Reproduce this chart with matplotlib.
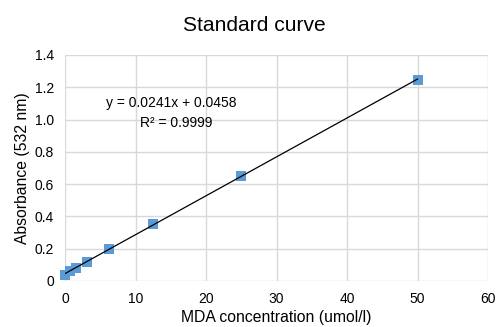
import matplotlib
matplotlib.use("Agg")
import matplotlib.pyplot as plt
import numpy as np

plt.rcParams['font.family'] = ['Liberation Sans', 'DejaVu Sans']

conc = [0, 0.78, 1.56, 3.125, 6.25, 12.5, 25, 50]
absorb = [0.04, 0.06, 0.08, 0.12, 0.20, 0.355, 0.65, 1.245]
slope = 0.0241
intercept = 0.0458
x_ticks = [0, 10, 20, 30, 40, 50, 60]
y_ticks = [0, 0.2, 0.4, 0.6, 0.8, 1.0, 1.2, 1.4]
y_labels = ['0', '0.2', '0.4', '0.6', '0.8', '1.0', '1.2', '1.4']

fig = plt.figure(figsize=(4.99, 3.27), dpi=100)
ax = fig.add_axes([65/499, 1-281/327, (488-65)/499, (281-55)/327])

ax.scatter(conc, absorb, marker='s', s=55, color='#5B9BD5', zorder=3, linewidths=0, clip_on=False)
xf = np.array([min(conc), max(conc)])
ax.plot(xf, slope*xf + intercept, color='black', lw=0.9, zorder=4)

ax.set_xlim(0, 60)
ax.set_ylim(0, 1.4)
ax.set_xticks(x_ticks)
ax.set_yticks(y_ticks)
ax.set_yticklabels(y_labels)
ax.grid(True, color='#D9D9D9', lw=1)
ax.set_axisbelow(True)
for s in ax.spines.values():
    s.set_visible(False)
ax.tick_params(length=0, labelsize=10, colors='#000000', pad=8)
ax.set_xlabel('MDA concentration (umol/l)', fontsize=11.3, labelpad=3)
ax.set_ylabel('Absorbance (532 nm)', fontsize=11.3, labelpad=3)
fig.text(254/499, 1-31/327, 'Standard curve', ha='center', va='baseline', fontsize=15.1)

ax.text(15, 1.10, 'y = 0.0241x + 0.0458', ha='center', va='center', fontsize=10)
ax.text(15.8, 0.98, 'R² = 0.9999', ha='center', va='center', fontsize=10)

fig.savefig('out.png', dpi=100)
